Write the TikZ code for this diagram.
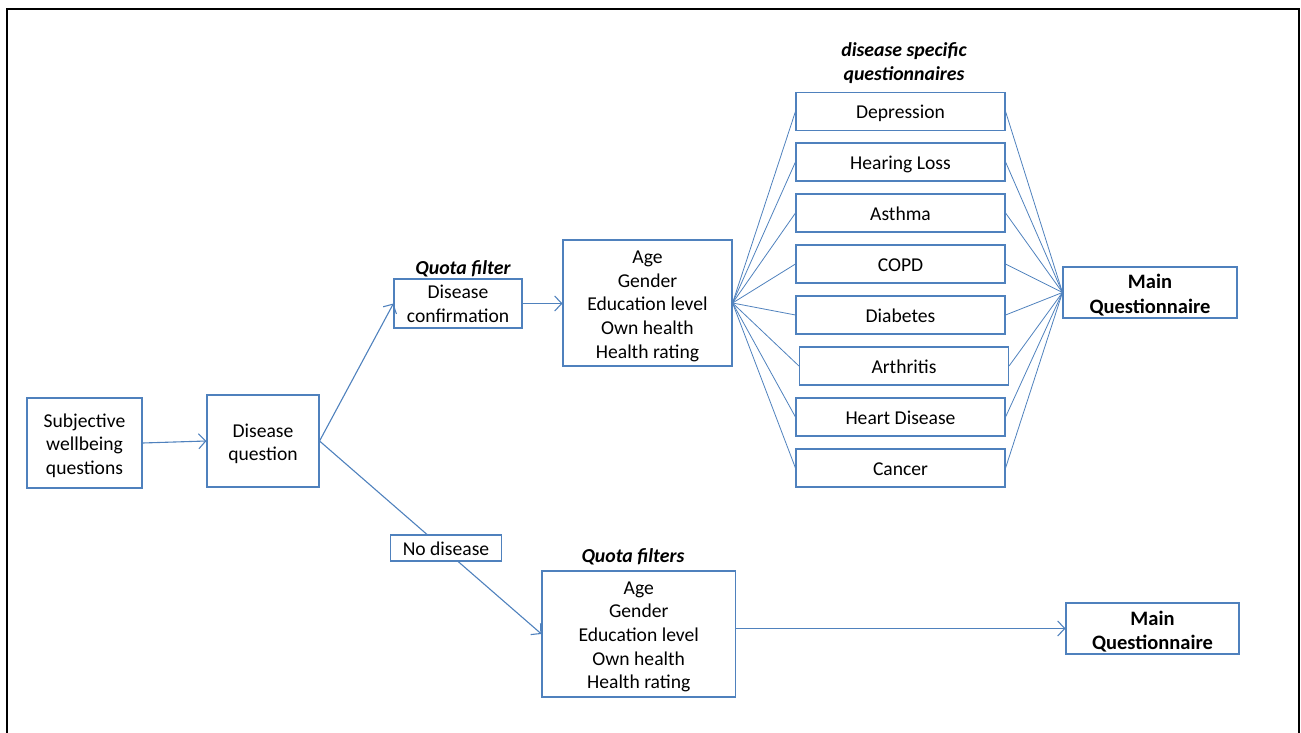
\documentclass[tikz,border=0pt]{standalone}
\usepackage{fontspec}
\setmainfont{Carlito}
\usetikzlibrary{arrows.meta}
\definecolor{obl}{HTML}{4F81BD}
\begin{document}
\begin{tikzpicture}[x=1pt,y=-1pt,
  frame/.style={draw=obl, line width=1.1pt, fill=white, inner sep=0pt},
  box/.style={frame, align=center,
    font=\fontsize{19.6}{23.7}\selectfont,
    execute at begin node={\rule[-5pt]{0pt}{24pt}},
    execute at end node={\rule[-5pt]{0pt}{5pt}}},
  dbox/.style={box, minimum width=209pt, minimum height=38pt},
  tb/.style={font=\fontsize{19.6}{23.7}\selectfont, align=center, inner sep=0pt, yshift=-2.8pt},
  tbb/.style={tb, font=\fontsize{20.5}{24.5}\selectfont\bfseries},
  conn/.style={draw=obl, line width=0.8pt},
  arr/.style={draw=obl, line width=1.1pt, -{Straight Barb[length=7pt,width=15pt,line width=1.1pt]}},
  lbl/.style={font=\fontsize{19.8}{23.5}\selectfont\bfseries\itshape, align=center, inner sep=0pt}]
\useasboundingbox (0,0) rectangle (1301,733);
\draw[line width=2pt, black] (7,9) rectangle (1299,760);

\node[frame, minimum width=115pt, minimum height=90pt,
  label={[tb, yshift=0.3pt]center:{Subjective\\wellbeing\\questions}}] (subj) at (84.5,443) {};
\node[frame, minimum width=112pt, minimum height=92pt,
  label={[tb]center:{Disease\\question}}] (dq) at (263,441) {};
\node[frame, minimum width=128pt, minimum height=49pt,
  label={[tb, yshift=2.3pt]center:{Disease\\confirmation}}] (disc) at (458,303.5) {};
\node[lbl] (qf1) at (463,269) {Quota filter};
\node[frame, minimum width=169pt, minimum height=126pt,
  label={[tb, yshift=-0.5pt]center:{Age\\Gender\\Education level\\Own health\\Health rating}}] (age1) at (647.5,303) {};

\node[lbl] (dsq) at (904,63) {disease specific\\questionnaires};
\node[dbox] (d1) at (900.5,111.5) {Depression};
\node[dbox] (d2) at (900.5,162) {Hearing Loss};
\node[dbox] (d3) at (900.5,213) {Asthma};
\node[dbox] (d4) at (900.5,264) {COPD};
\node[dbox] (d5) at (900.5,315) {Diabetes};
\node[dbox] (d6) at (904,366) {Arthritis};
\node[dbox] (d7) at (900.5,417) {Heart Disease};
\node[dbox] (d8) at (900.5,468) {Cancer};

\node[frame, minimum width=174pt, minimum height=51pt,
  label={[tbb]center:{Main\\Questionnaire}}] (mq1) at (1150,292.5) {};

\node[frame, minimum width=193.5pt, minimum height=126pt,
  label={[tb]center:{Age\\Gender\\Education level\\Own health\\Health rating}}] (age2) at (638.75,634) {};
\node[lbl] (qf2) at (633,557) {Quota filters};
\node[frame, minimum width=173pt, minimum height=51pt,
  label={[tbb, yshift=-0.5pt]center:{Main\\Questionnaire}}] (mq2) at (1152.5,628.5) {};

\draw[arr] (subj.east) -- (dq.west);
\draw[arr] (dq.east) -- (disc.west);
\draw[arr] (disc.east) -- (disc.east -| age1.west);
\draw[arr] (dq.east) -- (age2.west);
\node[box, minimum width=111pt, minimum height=26pt] (nod) at (446,548) {No disease};
\draw[arr] (age2.east |- mq2.west) -- (mq2.west);

\foreach \i in {1,...,8}{
  \draw[conn] (age1.east) -- (d\i.west);
  \draw[conn] (d\i.east) -- (mq1.west);
}
\end{tikzpicture}
\end{document}
